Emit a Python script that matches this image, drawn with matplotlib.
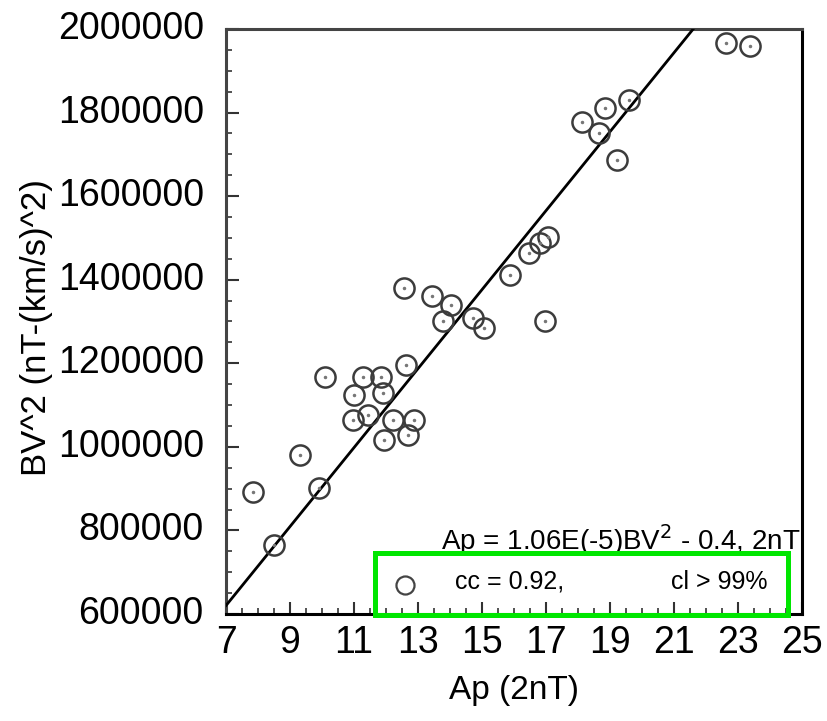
import matplotlib
matplotlib.use("Agg")
import matplotlib.pyplot as plt
from matplotlib.ticker import MultipleLocator
from matplotlib.patches import Rectangle
from matplotlib.transforms import ScaledTranslation
import numpy as np

plt.rcParams['font.family'] = ['Liberation Sans', 'DejaVu Sans']

# Data
ap = [22.62, 23.38, 19.60, 18.84, 18.12, 18.67, 19.23,
      15.88, 16.48, 17.07, 16.81, 16.97,
      12.57, 13.45, 14.03, 13.79, 14.71, 15.07,
      10.09, 11.27, 11.84, 12.63, 11.01, 11.90,
      10.96, 11.43, 12.21, 12.88, 11.95, 12.68,
      9.31, 9.92, 7.83, 8.51]
bv2 = [1967000, 1959000, 1830000, 1810000, 1778000, 1750000, 1687000,
       1412000, 1463000, 1503000, 1488000, 1300000,
       1380000, 1360000, 1340000, 1300000, 1308000, 1284000,
       1168000, 1168000, 1168000, 1196000, 1124000, 1129000,
       1065000, 1077000, 1065000, 1065000, 1017000, 1029000,
       981000, 901000, 893000, 766000]

# Regression line drawn on the chart: BV^2 = fit_slope * Ap + fit_intercept
fit_slope = 94500
fit_intercept = -41200

x_ticks = [7, 9, 11, 13, 15, 17, 19, 21, 23, 25]
y_ticks = [600000, 800000, 1000000, 1200000, 1400000, 1600000, 1800000, 2000000]

eq_text = r'Ap = 1.06E(-5)BV$^2$ - 0.4, 2nT'
cc_text = 'cc = 0.92,'
cl_text = 'cl > 99%'

fig = plt.figure(figsize=(8.27, 7.21), dpi=100)
ax = fig.add_axes([0.2733, 0.1484, 0.6965, 0.8114])

ax.set_xlim(7, 25)
ax.set_ylim(600000, 2000000)

xl = np.array([7, 25])
ax.plot(xl, fit_slope * xl + fit_intercept, color='black', lw=2.0, zorder=3)

ax.plot(ap, bv2, linestyle='none', marker='o', markersize=14.5,
        markerfacecolor='none', markeredgecolor='#3c3c3c', markeredgewidth=1.8, zorder=4)
ax.plot(ap, bv2, linestyle='none', marker='.', markersize=3,
        color='#777777', zorder=4)

ax.set_xticks(x_ticks)
ax.set_xticklabels([str(v) for v in x_ticks])
ax.set_yticks(y_ticks)
ax.set_yticklabels([str(v) for v in y_ticks])
ax.xaxis.set_minor_locator(MultipleLocator(0.5))
ax.yaxis.set_minor_locator(MultipleLocator(50000))

ax.tick_params(axis='both', which='major', direction='in', length=9, width=1.5,
               color='#333333')
ax.tick_params(axis='both', which='minor', direction='in', length=4, width=1.3,
               color='#444444')
ax.tick_params(axis='x', which='major', labelsize=27, pad=8)
ax.tick_params(axis='y', which='major', labelsize=27, pad=16)

shift_up = ScaledTranslation(0, 4 / 100, fig.dpi_scale_trans)
for lab in ax.get_yticklabels():
    lab.set_transform(lab.get_transform() + shift_up)

ax.set_xlabel('Ap (2nT)', fontsize=24, labelpad=10)
ax.set_ylabel('BV^2 (nT-(km/s)^2)', fontsize=25)
ax.yaxis.set_label_coords(-0.30, 0.49)

ax.spines['left'].set_color('#444444')
ax.spines['top'].set_color('#444444')
ax.spines['right'].set_color('black')
ax.spines['bottom'].set_color('black')
for s in ax.spines.values():
    s.set_linewidth(2.2)

ax.text(0.997, 0.126, eq_text, transform=ax.transAxes, ha='right', va='center',
        fontsize=20, zorder=5)

# legend-like entry inside the green box
ax.plot([0.311], [0.05], transform=ax.transAxes, linestyle='none', marker='o',
        markersize=13, markerfacecolor='none', markeredgecolor='#444444',
        markeredgewidth=1.6, zorder=5, clip_on=False)
ax.text(0.398, 0.055, cc_text, transform=ax.transAxes, ha='left', va='center',
        fontsize=18, zorder=5)
ax.text(0.94, 0.055, cl_text, transform=ax.transAxes, ha='right', va='center',
        fontsize=18, zorder=5)

ax.add_patch(Rectangle((0.2587, -0.002), 0.717, 0.106, transform=ax.transAxes,
                       fill=False, edgecolor='#00e600', linewidth=3.6,
                       clip_on=False, zorder=6))

fig.savefig('out.png', dpi=100)
